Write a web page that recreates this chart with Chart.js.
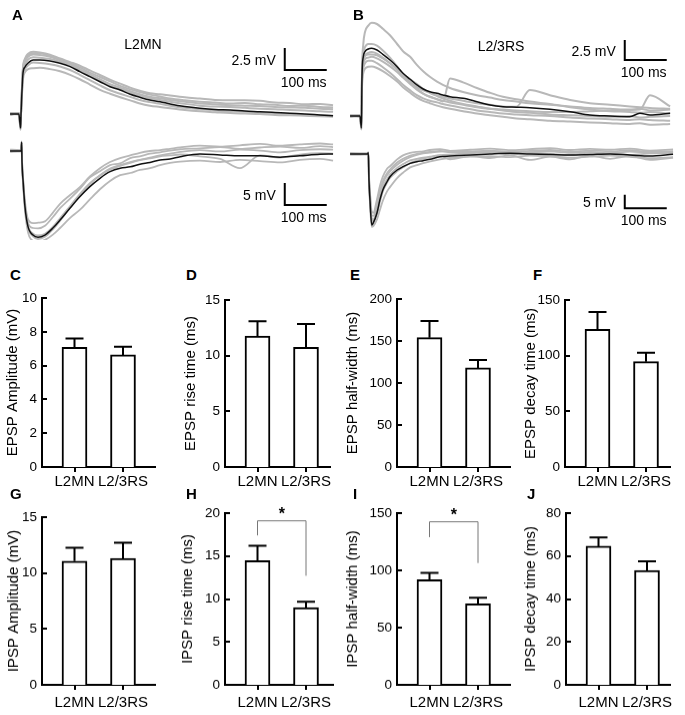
<!DOCTYPE html>
<html>
<head>
<meta charset="utf-8">
<script src="https://cdn.jsdelivr.net/npm/chart.js@4.4.1/dist/chart.umd.min.js"></script>
<style>
  html, body { margin: 0; padding: 0; background: #fff; }
  #fig { position: relative; width: 685px; height: 715px; overflow: hidden; }
  #fig canvas { position: absolute; }
  .lbl { position: absolute; font: bold 15px 'Liberation Sans', Arial, sans-serif; line-height: 15px; }
</style>
</head>
<body>
<div id="fig"></div>
<script>
// ---- bar chart data (mean, SEM) ----
const groups = ['L2MN', 'L2/3RS'];
const epspAmp = [7.08, 6.63],   epspAmpSem = [0.52, 0.49];
const epspRise = [11.77, 10.75], epspRiseSem = [1.33, 2.1];
const epspHalf = [154, 118],    epspHalfSem = [19.8, 9.4];
const epspDecay = [123.7, 94.6], epspDecaySem = [15.6, 8.1];
const ipspAmp = [11.07, 11.31], ipspAmpSem = [1.19, 1.39];
const ipspRise = [14.46, 8.99], ipspRiseSem = [1.74, 0.7];
const ipspHalf = [91.8, 70.8],  ipspHalfSem = [5.9, 5.2];
const ipspDecay = [64.6, 53.3], ipspDecaySem = [4.0, 4.2];

// ---- traces, panel A (ms, mV) ----
const tA_E = [-26, -5, -1, 0, 2.4, 4.8, 9.5, 17, 29, 45, 69, 93, 117, 140, 164, 188, 212, 236, 260, 283, 307, 331, 355, 390, 426, 462, 498, 533, 569, 605, 640, 676, 712, 743];
const meanA_E = [0, 0, -1.6, 0, 2.7, 4.66, 5.34, 5.8, 6.14, 6.14, 6.02, 5.76, 5.38, 4.81, 4.24, 3.67, 3.10, 2.73, 2.24, 1.9, 1.59, 1.4, 1.14, 0.85, 0.65, 0.51, 0.45, 0.34, 0.26, 0.17, 0.08, 0, -0.11, -0.2];
const grayA_E = [
  [0.1, 0.05, -1.2, 0.1, 3.0, 5.3, 6.3, 6.85, 7.08, 7.0, 6.75, 6.3, 5.9, 5.5, 4.95, 4.43, 3.9, 3.45, 3.0, 2.65, 2.35, 2.25, 2.1, 1.9, 1.75, 1.6, 1.55, 1.55, 1.5, 1.3, 1.25, 1.1, 1.15, 1.0],
  [0, 0.1, -1.3, 0.05, 3.1, 5.2, 6.1, 6.65, 6.9, 6.9, 6.6, 6.2, 5.75, 5.3, 4.7, 4.2, 3.7, 3.2, 2.8, 2.5, 2.2, 2.0, 1.75, 1.55, 1.4, 1.3, 1.2, 1.25, 1.1, 1.05, 0.9, 0.95, 0.8, 0.75],
  [-0.1, 0.1, -1.4, 0, 2.9, 5.0, 5.95, 6.5, 6.75, 6.7, 6.5, 6.1, 5.6, 5.1, 4.5, 3.95, 3.4, 3.0, 2.6, 2.25, 1.95, 1.8, 1.6, 1.4, 1.2, 1.1, 1.0, 0.95, 0.9, 0.8, 0.75, 0.7, 0.6, 0.55],
  [0.05, -0.05, -1.5, 0.05, 2.8, 4.9, 5.6, 6.2, 6.45, 6.4, 6.25, 5.95, 5.55, 5.0, 4.4, 3.8, 3.3, 2.85, 2.45, 2.1, 1.8, 1.6, 1.4, 1.15, 0.95, 0.85, 0.8, 0.7, 0.6, 0.55, 0.45, 0.4, 0.3, 0.25],
  [0, 0.05, -1.7, -0.05, 2.5, 4.4, 5.1, 5.55, 5.85, 5.8, 5.65, 5.4, 5.0, 4.45, 3.85, 3.25, 2.7, 2.3, 1.95, 1.6, 1.35, 1.15, 0.95, 0.7, 0.55, 0.4, 0.3, 0.25, 0.15, 0.05, 0, -0.1, -0.15, -0.2],
  [-0.05, 0, -1.8, 0, 2.3, 4.0, 4.75, 5.1, 5.2, 5.25, 5.1, 4.85, 4.45, 3.95, 3.35, 2.75, 2.3, 1.9, 1.55, 1.2, 0.95, 0.8, 0.65, 0.45, 0.3, 0.2, 0.1, 0.05, 0, -0.1, -0.15, -0.2, -0.25, -0.3]
];
const tA_I = [-26, -1, 0.5, 1.5, 2.4, 4.8, 9.5, 16.7, 28.6, 40.5, 57, 76, 93, 117, 140, 164, 188, 212, 236, 260, 283, 307, 331, 355, 379, 426, 474, 521, 569, 617, 664, 712, 743];
const meanA_I = [0, 0, 0, 2.0, -2.5, -6.6, -12.7, -17.2, -19.1, -19.6, -19.1, -17.5, -15.7, -12.95, -10.4, -8.1, -6.2, -4.7, -3.9, -3.6, -3.0, -2.6, -2.05, -1.8, -1.3, -0.7, -0.9, -1.1, -1.1, -1.4, -1.1, -0.75, -0.7];
const grayA_I = [
  [0.3, 0.2, 0.1, 1.5, -2.0, -6.0, -11.5, -15.5, -16.4, -16.3, -16.0, -14.0, -12.0, -10.0, -8.2, -5.8, -3.9, -2.5, -1.6, -1.0, -0.4, 0, 0.2, 0.5, 0.8, 1.2, 1.0, 1.3, 1.6, 1.2, 1.5, 1.7, 1.5],
  [-0.2, 0, -0.1, 1.8, -2.3, -6.4, -12.2, -16.3, -17.5, -17.6, -17.0, -15.0, -13.0, -10.8, -8.6, -6.0, -4.6, -3.2, -2.8, -1.6, -1.2, -0.6, -0.3, 0.1, 0.4, 0.6, 0.9, 0.5, 0.8, 1.0, 0.7, 1.1, 0.9],
  [0.1, 0.1, 0, 2.2, -2.6, -6.8, -12.9, -17.5, -19.4, -20.0, -19.5, -17.8, -15.9, -12.8, -10.0, -7.5, -5.5, -4.0, -3.2, -2.5, -2.0, -1.5, -1.0, -0.6, -0.2, 0.2, -0.1, 0.3, 0.1, -0.3, 0.2, 0.4, 0.3],
  [0, -0.1, 0.1, 1.6, -2.4, -6.5, -12.5, -17.0, -18.8, -19.2, -18.8, -17.2, -15.3, -12.5, -9.8, -7.3, -5.6, -4.2, -3.4, -2.7, -2.1, -1.7, -1.2, -1.0, -0.8, -1.2, -1.8, -3.9, -1.0, -1.5, -0.8, -0.5, -0.6],
  [-0.1, 0, 0, 2.0, -2.8, -7.2, -13.5, -18.5, -20.4, -20.6, -20.2, -19.0, -17.5, -15.2, -13.4, -11.0, -8.7, -6.8, -5.5, -5.0, -4.3, -3.9, -3.2, -2.7, -2.4, -2.2, -2.5, -2.0, -2.3, -2.6, -2.0, -1.8, -2.2]
];

// ---- traces, panel B ----
const tB_E = [-26, -2.4, 1, 2.4, 5.5, 9.5, 17.4, 25.5, 38, 52, 69, 86, 100, 117, 133, 148, 164, 181, 195, 212, 243, 276, 307, 338, 370, 402, 450, 498, 545, 593, 640, 664, 688, 736];
const meanB_E = [0, 0, -1.5, 4.91, 7.41, 8.04, 8.38, 8.46, 8.25, 7.71, 7.0, 6.16, 5.34, 4.59, 3.88, 3.38, 3.04, 2.84, 2.63, 2.41, 2.21, 1.79, 1.38, 1.16, 1.1, 1.04, 0.84, 0.54, 0.13, 0, -0.09, 0.34, 0.13, 0.34];
const grayB_E = [
  [0.1, 0, -1.4, 5.5, 9.0, 10.5, 11.3, 11.66, 11.5, 10.9, 10.1, 9.0, 8.1, 7.4, 6.4, 5.6, 4.9, 4.3, 3.9, 3.5, 3.0, 2.6, 2.3, 2.0, 1.8, 1.6, 1.4, 1.2, 1.0, 0.9, 0.8, 0.9, 0.7, 0.8],
  [0, 0.1, -1.6, 5.0, 7.8, 8.6, 9.0, 9.0, 8.8, 8.2, 7.3, 6.2, 5.2, 4.2, 3.4, 2.8, 2.4, 2.1, 1.8, 4.7, 4.2, 3.5, 2.9, 2.4, 2.1, 1.8, 1.5, 1.1, 0.8, 0.6, 0.5, 0.4, 0.5, 0.3],
  [-0.1, 0, -1.5, 4.6, 7.0, 7.6, 7.9, 8.0, 7.8, 7.3, 6.6, 5.8, 5.0, 4.3, 3.6, 3.2, 2.9, 2.6, 2.4, 2.2, 1.9, 1.6, 1.4, 1.2, 1.16, 3.25, 2.6, 2.0, 1.6, 1.4, 1.2, 1.1, 1.0, 0.9],
  [0, 0, -1.5, 4.8, 7.0, 7.5, 7.7, 7.7, 7.6, 7.2, 6.6, 5.9, 5.2, 4.6, 4.0, 3.4, 2.9, 2.5, 2.2, 1.9, 1.5, 1.2, 0.9, 0.7, 0.5, 0.4, 0.2, 0.1, 0, -0.1, 0, -0.2, -0.1, 0],
  [0, -0.1, -1.3, 4.3, 6.5, 7.1, 7.3, 7.4, 7.2, 6.8, 6.2, 5.5, 4.8, 4.0, 3.3, 2.8, 2.4, 2.1, 1.9, 1.7, 1.4, 1.1, 0.9, 0.8, 0.7, 0.6, 0.5, 0.5, 0.6, 0.7, 0.75, 0.8, 2.6, 1.2],
  [0.05, 0, -1.7, 4.0, 6.0, 6.6, 6.9, 6.9, 6.6, 6.1, 5.4, 4.6, 3.9, 3.2, 2.6, 2.2, 1.9, 1.7, 1.5, 1.3, 1.0, 0.7, 0.5, 0.3, 0.2, 0.1, 0, -0.2, -0.3, -0.4, -0.5, -0.4, -0.5, -0.6],
  [-0.05, 0.05, -1.2, 3.6, 5.4, 5.9, 6.15, 6.2, 6.0, 5.6, 5.0, 4.3, 3.6, 2.9, 2.3, 1.9, 1.6, 1.3, 1.1, 0.9, 0.6, 0.3, 0.1, -0.1, -0.3, -0.4, -0.6, -0.7, -0.8, -0.9, -1.0, -0.9, -1.1, -1.0]
];
const tB_I = [-26, 16, 17.5, 19, 21.4, 25.5, 29.3, 38, 45, 52, 62, 69, 86, 100, 117, 133, 148, 164, 188, 212, 260, 307, 355, 402, 450, 498, 545, 593, 640, 688, 743];
const meanB_I = [0, 0, 0.5, -9.7, -17.2, -26.6, -25.8, -22.1, -17.2, -13.5, -10.4, -8.5, -6.0, -4.75, -3.5, -2.9, -2.5, -2.0, -1.0, -0.75, -0.37, 0, 0.26, 0, -0.2, -0.37, -0.2, 0, -0.37, -0.75, -0.11];
const grayB_I = [
  [0.3, 0.2, 0.6, -8.0, -14.5, -21.5, -22.0, -17.0, -12.0, -8.5, -5.5, -4.6, -2.0, -0.5, 0.4, 0.8, 1.0, 1.5, 1.8, 1.2, 1.6, 2.0, 1.4, 1.8, 2.2, 1.5, 1.9, 1.6, 2.0, 1.3, 1.7],
  [-0.2, 0, 0.4, -9.0, -16.0, -24.0, -24.5, -20.0, -15.0, -11.0, -8.0, -6.5, -4.0, -2.5, -1.2, -0.3, 0.2, 0.5, 0.9, 1.1, 0.6, 1.0, 0.3, 0.7, 1.0, 0.4, 0.8, 0.3, 0.9, 0.5, 0.7],
  [0.1, 0.1, 0.5, -10.0, -17.5, -26.0, -25.5, -22.5, -18.0, -14.0, -10.8, -9.0, -6.5, -5.0, -3.4, -2.5, -1.8, -1.2, -0.5, -0.2, 0.3, 0.6, -0.2, 0.4, 0.1, -0.4, 0.5, 0.2, -0.3, 0.2, 0.4],
  [0, -0.1, 0.4, -10.5, -18.5, -27.3, -27.0, -24.5, -21.0, -17.5, -14.0, -12.4, -9.0, -7.0, -5.0, -4.2, -3.4, -2.8, -2.0, -1.5, -1.0, -0.8, -1.2, -0.6, -0.9, -1.4, -1.0, -0.6, -1.1, -1.6, -1.2],
  [-0.1, 0.1, 0.3, -9.5, -16.8, -25.0, -25.0, -21.0, -16.5, -12.5, -9.5, -7.8, -5.2, -3.8, -2.4, -1.8, -1.4, -1.0, -0.4, -2.0, -0.8, -1.5, -0.5, -2.2, -1.0, -2.0, -0.6, -1.8, -0.8, -2.2, -1.4],
  [0.2, 0, 0.6, -8.5, -15.0, -23.0, -23.2, -18.5, -13.8, -10.2, -7.2, -5.8, -3.2, -1.8, -0.6, 0, 0.5, 0.8, 1.2, 0.6, 1.0, 1.3, 0.8, 1.2, 1.5, 0.9, 1.3, 1.0, 1.4, 0.8, 1.1]
];

const FONT = "'Liberation Sans', Arial, Helvetica, sans-serif";
Chart.defaults.font.family = FONT;
Chart.defaults.color = '#000';
Chart.defaults.animation = false;

const fig = document.getElementById('fig');

function addCanvas(left, top, w, h) {
  const c = document.createElement('canvas');
  c.width = w; c.height = h;
  c.style.left = left + 'px'; c.style.top = top + 'px';
  c.style.width = w + 'px'; c.style.height = h + 'px';
  fig.appendChild(c);
  return c;
}

function addLetter(txt, left, top) {
  const d = document.createElement('div');
  d.className = 'lbl';
  d.textContent = txt;
  d.style.left = left + 'px'; d.style.top = top + 'px';
  fig.appendChild(d);
}

// electrophysiology traces with scale bars
function tracePanel(left, width, p) {
  const canvas = addCanvas(left, 0, width, 240);
  const xMin = -21 / 0.42;
  const line = (t, v, axis, color, w) => ({
    data: t.map((x, i) => ({ x: x, y: v[i] })),
    yAxisID: axis, borderColor: color, borderWidth: w,
    pointRadius: 0, cubicInterpolationMode: 'monotone', fill: false
  });
  const ds = [line(p.tE, p.meanE, 'yE', '#111', 1.5), line(p.tI, p.meanI, 'yI', '#111', 1.5)];
  p.bars.forEach(b => ds.push({
    data: [{ x: b.t, y: b.v + b.mv }, { x: b.t, y: b.v }, { x: b.t + 100, y: b.v }],
    yAxisID: b.axis, borderColor: '#000', borderWidth: 2, pointRadius: 0, tension: 0
  }));
  p.grayE.forEach(g => ds.push(line(p.tE, g, 'yE', '#b8b8b8', 2)));
  p.grayI.forEach(g => ds.push(line(p.tI, g, 'yI', '#b8b8b8', 1.8)));

  const labels = {
    id: 'traceLabels',
    afterDraw(chart) {
      const { ctx, scales } = chart;
      ctx.save();
      ctx.fillStyle = '#000';
      ctx.font = '14px ' + FONT;
      ctx.textBaseline = 'middle';
      ctx.textAlign = 'center';
      ctx.fillText(p.name, p.nameX, p.nameY);
      p.bars.forEach(b => {
        const ys = scales[b.axis];
        const px = scales.x.getPixelForValue(b.t);
        const pTop = ys.getPixelForValue(b.v + b.mv);
        const pBot = ys.getPixelForValue(b.v);
        ctx.textAlign = 'right';
        ctx.fillText(b.mv + ' mV', px - 9, (pTop + pBot) / 2 + 2);
        ctx.textAlign = 'center';
        ctx.fillText('100 ms', scales.x.getPixelForValue(b.t + 45), pBot + 13);
      });
      ctx.restore();
    }
  };

  new Chart(canvas, {
    type: 'line',
    data: { datasets: ds },
    options: {
      responsive: false,
      layout: { padding: 0 },
      plugins: { legend: { display: false }, tooltip: { enabled: false } },
      scales: {
        x: { type: 'linear', display: false, min: xMin, max: xMin + width / 0.42 },
        yE: { type: 'linear', display: false, min: (p.baseE - 240) / p.kE, max: p.baseE / p.kE },
        yI: { type: 'linear', display: false, min: (p.baseI - 240) / p.kI, max: p.baseI / p.kI }
      }
    },
    plugins: [labels]
  });
}

tracePanel(0, 340, {
  tE: tA_E, meanE: meanA_E, grayE: grayA_E,
  tI: tA_I, meanI: meanA_I, grayI: grayA_I,
  baseE: 114, kE: 8.8, baseI: 151, kI: 4.4,
  name: 'L2MN', nameX: 143, nameY: 45,
  bars: [{ axis: 'yE', t: 628, v: 5.0, mv: 2.5 }, { axis: 'yI', t: 628, v: -12.27, mv: 5 }]
});
tracePanel(340, 345, {
  tE: tB_E, meanE: meanB_E, grayE: grayB_E,
  tI: tB_I, meanI: meanB_I, grayI: grayB_I,
  baseE: 116, kE: 8, baseI: 154, kI: 2.67,
  name: 'L2/3RS', nameX: 161, nameY: 47,
  bars: [{ axis: 'yE', t: 628, v: 7.0, mv: 2.5 }, { axis: 'yI', t: 628, v: -20.3, mv: 5 }]
});

// bar panels
function barPanel(p) {
  const left = p.titleX - 9, top = p.top - 14;
  const w = p.endX - left + 12, h = p.zero - top + 32;
  const canvas = addCanvas(left, top, w, h);
  const xMin = -32.5 / 48.5;
  const xMax = xMin + (p.endX - p.axisX) / 48.5;

  const extras = {
    id: 'barExtras',
    afterDatasetsDraw(chart) {
      const { ctx, chartArea, scales: { x, y } } = chart;
      ctx.save();
      ctx.strokeStyle = '#000';
      ctx.lineWidth = 2;
      y.ticks.forEach(t => {
        const py = Math.round(y.getPixelForValue(t.value));
        ctx.beginPath(); ctx.moveTo(chartArea.left, py); ctx.lineTo(chartArea.left + 5, py); ctx.stroke();
      });
      p.values.forEach((v, i) => {
        const px = x.getPixelForValue(i);
        const p0 = y.getPixelForValue(v), p1 = y.getPixelForValue(v + p.sems[i]);
        ctx.beginPath();
        ctx.moveTo(px, p0); ctx.lineTo(px, p1);
        ctx.moveTo(px - 9, p1); ctx.lineTo(px + 9, p1);
        ctx.stroke();
      });
      if (p.sig) {
        const x0 = x.getPixelForValue(0), x1 = x.getPixelForValue(1);
        ctx.strokeStyle = '#777';
        ctx.lineWidth = 1;
        ctx.beginPath();
        ctx.moveTo(x0, y.getPixelForValue(p.sig[0]));
        ctx.lineTo(x0, y.getPixelForValue(p.sig[1]));
        ctx.lineTo(x1, y.getPixelForValue(p.sig[1]));
        ctx.lineTo(x1, y.getPixelForValue(p.sig[2]));
        ctx.stroke();
        ctx.fillStyle = '#000';
        ctx.font = 'bold 16px ' + FONT;
        ctx.textAlign = 'center';
        ctx.textBaseline = 'middle';
        ctx.fillText('*', (x0 + x1) / 2, y.getPixelForValue(p.sig[1]) - 6);
      }
      ctx.restore();
    }
  };

  new Chart(canvas, {
    type: 'bar',
    data: {
      datasets: [{
        data: p.values.map((v, i) => ({ x: i, y: v })),
        backgroundColor: '#fff', borderColor: '#000', borderWidth: 2,
        barThickness: 25, borderSkipped: 'bottom'
      }]
    },
    options: {
      responsive: false,
      layout: { padding: { top: 14, right: 12, left: 0, bottom: 0 } },
      plugins: { legend: { display: false }, tooltip: { enabled: false } },
      scales: {
        x: {
          type: 'linear', min: xMin, max: xMax, offset: false,
          afterBuildTicks: s => { s.ticks = [{ value: 0 }, { value: 1 }]; },
          afterFit: s => { s.height = 32; },
          ticks: { callback: v => groups[v], font: { size: 15 }, padding: p.labelPad, maxRotation: 0, autoSkip: false },
          grid: { display: true, drawOnChartArea: false, drawTicks: true, tickLength: 5, color: '#000', lineWidth: 2, offset: false },
          border: { display: true, color: '#000', width: 2 }
        },
        y: {
          min: 0, max: p.max,
          afterFit: s => { s.width = p.axisX - left; },
          ticks: { stepSize: p.step, font: { size: 13.5 }, padding: 5 },
          grid: { display: false, drawTicks: false },
          border: { display: true, color: '#000', width: 2 },
          title: { display: true, text: p.title, font: { size: 15 }, padding: 0 }
        }
      }
    },
    plugins: [extras]
  });
}

const row1 = { top: 299, zero: 467, labelPad: 1 };
const row2 = { top: 513, zero: 684.5, labelPad: 4 };
barPanel({ ...row1, top: 298, axisX: 42, endX: 155, titleX: 13, max: 10, step: 2, title: 'EPSP Amplitude (mV)', values: epspAmp, sems: epspAmpSem });
barPanel({ ...row1, top: 300, axisX: 225, endX: 330, titleX: 191, max: 15, step: 5, title: 'EPSP rise time (ms)', values: epspRise, sems: epspRiseSem });
barPanel({ ...row1, axisX: 397, endX: 510, titleX: 353, max: 200, step: 50, title: 'EPSP half-width (ms)', values: epspHalf, sems: epspHalfSem });
barPanel({ ...row1, top: 300, axisX: 565, endX: 670, titleX: 531, max: 150, step: 50, title: 'EPSP decay time (ms)', values: epspDecay, sems: epspDecaySem });
barPanel({ ...row2, top: 517, axisX: 42, endX: 155, titleX: 14, max: 15, step: 5, title: 'IPSP Amplitude (mV)', values: ipspAmp, sems: ipspAmpSem });
barPanel({ ...row2, axisX: 225, endX: 333, titleX: 188, max: 20, step: 5, title: 'IPSP rise time (ms)', values: ipspRise, sems: ipspRiseSem, sig: [17.4, 19.1, 12.7] });
barPanel({ ...row2, axisX: 397, endX: 510, titleX: 353, max: 150, step: 50, title: 'IPSP half-width (ms)', values: ipspHalf, sems: ipspHalfSem, sig: [129, 142.4, 106.4] });
barPanel({ ...row2, axisX: 566, endX: 670, titleX: 531, max: 80, step: 20, title: 'IPSP decay time (ms)', values: ipspDecay, sems: ipspDecaySem });

addLetter('A', 12, 7);
addLetter('B', 353, 7);
addLetter('C', 10, 267);
addLetter('D', 186, 267);
addLetter('E', 350, 267);
addLetter('F', 533, 267);
addLetter('G', 10, 486);
addLetter('H', 186, 486);
addLetter('I', 353, 486);
addLetter('J', 527, 486);
</script>
</body>
</html>
